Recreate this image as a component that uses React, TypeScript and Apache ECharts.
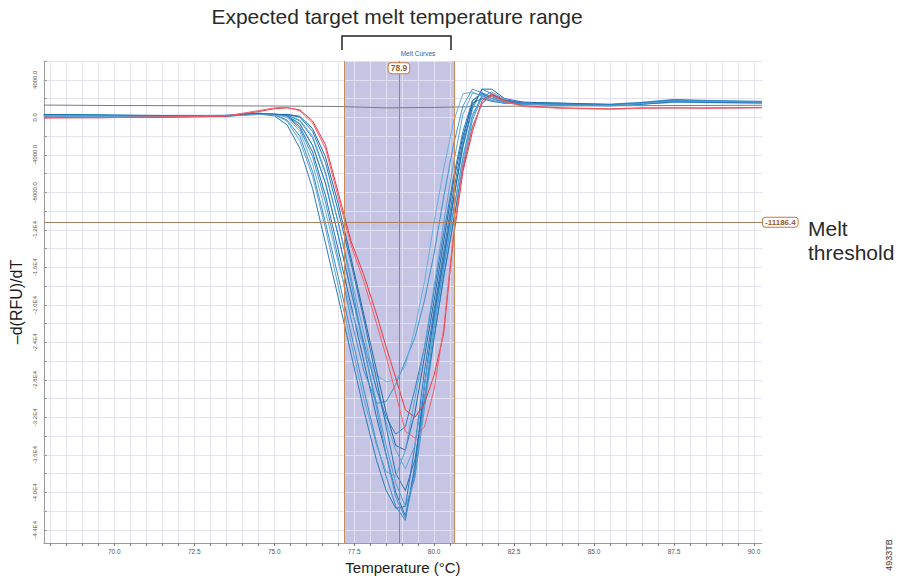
import React, { useEffect, useRef } from "react";
import * as echarts from "echarts";

// Temperature sample points (°C) shared by the melt curves
const TEMPS = [67.8, 69.5, 71.5, 73.5, 74.5, 75.0, 75.4, 75.8, 76.2, 76.6, 77.0, 77.4, 77.8, 78.2, 78.5, 78.8, 79.1, 79.4, 79.7, 80.0, 80.3, 80.6, 80.9, 81.2, 81.5, 81.8, 82.2, 82.8, 84.0, 85.5, 86.5, 87.5, 88.5, 90.25];

const BLUE_1 = [250, 200, 100, 150, 350, 150, -800, -3300, -7600, -13400, -19200, -25200, -31200, -36600, -39800, -41700, -41500, -35000, -27000, -20500, -14300, -8000, -2500, 1800, 2600, 2200, 1700, 1500, 1400, 1300, 1500, 1800, 1700, 1600];
const BLUE_2 = [200, 150, 50, 100, 450, 300, -300, -2000, -5800, -11200, -17000, -23000, -29000, -34700, -38300, -41500, -43000, -37000, -28500, -21500, -15300, -9000, -3200, 900, 3000, 2500, 1800, 1600, 1500, 1400, 1600, 1900, 1800, 1700];
const BLUE_3 = [150, 100, 50, 150, 400, 350, 150, -1000, -3700, -8300, -14100, -20000, -26000, -32000, -36000, -40000, -42500, -37500, -28500, -21000, -15000, -8800, -3000, 1200, 3000, 3000, 2000, 1600, 1500, 1350, 1500, 1700, 1700, 1650];
const BLUE_4 = [300, 250, 150, 200, 400, 350, 200, -700, -3000, -7000, -12600, -18500, -24500, -30500, -35000, -39000, -41500, -38500, -31000, -23500, -17000, -11200, -5000, -300, 2200, 2700, 1900, 1500, 1400, 1250, 1450, 1750, 1650, 1550];
const BLUE_5 = [100, 50, 0, 100, 350, 300, 250, -300, -2000, -5800, -11200, -17000, -23000, -29000, -32500, -35500, -37500, -35000, -28500, -22000, -16000, -10200, -4500, 0, 2400, 2300, 1700, 1400, 1300, 1200, 1400, 1600, 1600, 1500];
const BLUE_6 = [200, 150, 100, 150, 380, 300, 150, -700, -3000, -7000, -12600, -18500, -24000, -29000, -32000, -33800, -33000, -29000, -24500, -18500, -12300, -6500, -1500, 1800, 2500, 2000, 1600, 1450, 1350, 1300, 1500, 1850, 1750, 1650];
const BLUE_7 = [250, 200, 150, 200, 420, 300, 100, -1200, -4200, -9000, -15000, -21500, -27000, -30500, -30300, -28500, -26000, -23500, -19500, -14500, -8500, -3000, 1200, 3000, 2600, 2000, 1600, 1500, 1400, 1300, 1500, 1700, 1700, 1600];
const BLUE_8 = [150, 100, 50, 100, 300, 300, 0, -1500, -5000, -10000, -15500, -20500, -24500, -27500, -28200, -28000, -26500, -22500, -17500, -11200, -5500, -500, 2500, 2700, 2200, 1800, 1500, 1400, 1300, 1200, 1400, 1600, 1550, 1500];
const BLUE_9 = [300, 250, 200, 200, 400, 300, 300, 0, -1500, -4800, -10000, -15500, -21500, -28000, -33000, -38000, -39800, -36500, -30000, -23500, -17000, -11200, -5500, -1000, 1500, 2400, 1800, 1500, 1400, 1300, 1500, 1800, 1700, 1650];
const BLUE_10 = [200, 150, 100, 150, 350, 300, 250, -400, -2200, -6000, -11200, -17500, -24500, -31000, -36000, -40500, -42800, -38000, -30000, -22500, -16000, -10000, -4200, 300, 2300, 2000, 1600, 1450, 1350, 1250, 1450, 1700, 1650, 1600];
const BLUE_11 = [250, 200, 150, 150, 380, 300, 300, 100, -1200, -4200, -9200, -15000, -21000, -27000, -31500, -35000, -35500, -31500, -25500, -19500, -13200, -7000, -2000, 1500, 2000, 1700, 1500, 1400, 1300, 1250, 1400, 1650, 1600, 1550];
const BLUE_12 = [200, 150, 100, 150, 300, 250, -400, -2500, -6300, -11800, -18000, -24000, -30000, -35000, -37800, -38300, -35500, -30000, -24500, -18000, -11200, -5000, 300, 2600, 2300, 1800, 1500, 1400, 1300, 1250, 1450, 1750, 1700, 1600];
const RED_1 = [0, -50, 0, 100, 600, 900, 1000, 800, -400, -2900, -8000, -13200, -16800, -21000, -24500, -27800, -31200, -32000, -30500, -27500, -23000, -13000, -5800, -1500, 1800, 2500, 1800, 1200, 1000, 900, 1000, 1000, 1000, 1050];
const RED_2 = [-100, -50, 50, 150, 700, 1000, 1050, 700, -600, -3300, -8500, -13600, -17500, -22000, -25500, -29500, -33500, -34200, -33000, -29000, -22500, -12500, -5200, -1000, 1500, 2300, 1700, 1150, 950, 850, 950, 1000, 950, 1000];

// Near-flat gray trace
const GRAY_TEMPS = [67.8, 70, 72.5, 75, 77, 78.5, 80, 81.5, 83, 85, 87.5, 90.25];
const GRAY_VALUES = [1300, 1250, 1230, 1200, 1150, 1000, 1050, 1150, 1200, 1220, 1250, 1280];

const BLUE_SERIES = [BLUE_1, BLUE_2, BLUE_3, BLUE_4, BLUE_5, BLUE_6, BLUE_7, BLUE_8, BLUE_9, BLUE_10, BLUE_11, BLUE_12];
const BLUE_COLORS = ["#2a7ab8", "#3a8cc8", "#1f6fae", "#4b9cd3", "#5aa8dc", "#2f80c0", "#3d92cf", "#6ab0e0", "#2676b5", "#4596d0", "#1c6aa8", "#5ba3d6"];
const RED_SERIES = [RED_1, RED_2];
const RED_COLORS = ["#e8383d", "#f0606a"];

const X_LABELS = [70, 72.5, 75, 77.5, 80, 82.5, 85, 87.5, 90];
const Y_LABELS = [-44000, -40000, -36000, -32000, -28000, -24000, -20000, -16000, -12000, -8000, -4000, 0, 4000];

const RANGE_LOW = 77.2;
const RANGE_HIGH = 80.62;
const PEAK_TEMP = 78.9;
const THRESHOLD = -11186.4;

const X_MIN = 67.8;
const X_MAX = 90.25;
const Y_MIN = -45400;
const Y_MAX = 6000;

export default function App() {
  const ref = useRef<HTMLDivElement>(null);

  useEffect(() => {
    if (!ref.current) return;
    const chart = echarts.init(ref.current, null, { renderer: "svg" });

    const xGrid: number[] = [];
    for (let v = 68; v <= 90.001; v += 0.5) xGrid.push(Math.round(v * 10) / 10);
    const yGrid: number[] = [];
    for (let v = -44000; v <= 6000; v += 2000) yGrid.push(v);

    const font = "'Liberation Sans', Arial, Helvetica, sans-serif";

    const curveSeries: any[] = [];
    BLUE_SERIES.forEach((vals, k) => {
      curveSeries.push({
        type: "line",
        name: "blue" + (k + 1),
        data: TEMPS.map((t, i) => [t, vals[i]]),
        showSymbol: false,
        symbol: "none",
        silent: true,
        z: 2,
        lineStyle: { width: 1, color: BLUE_COLORS[k] },
      });
    });
    RED_SERIES.forEach((vals, k) => {
      curveSeries.push({
        type: "line",
        name: "red" + (k + 1),
        data: TEMPS.map((t, i) => [t, vals[i]]),
        showSymbol: false,
        symbol: "none",
        silent: true,
        z: 3,
        lineStyle: { width: 1, color: RED_COLORS[k] },
      });
    });

    const option: any = {
      animation: false,
      backgroundColor: "#ffffff",
      grid: { left: 39, top: 61, width: 723, height: 482, containLabel: false },
      xAxis: {
        type: "value",
        min: X_MIN,
        max: X_MAX,
        name: "Temperature (°C)",
        nameLocation: "middle",
        nameGap: 13,
        nameTextStyle: { fontFamily: font, fontSize: 15, color: "#1a1a1a" },
        axisLine: { show: true, onZero: false, lineStyle: { color: "#9a9a9a", width: 1 } },
        axisTick: { show: true, customValues: xGrid, length: 3, lineStyle: { color: "#777" } },
        axisLabel: {
          customValues: X_LABELS,
          formatter: (v: number) => v.toFixed(1),
          fontFamily: font,
          fontSize: 6.5,
          color: "#555",
          margin: 5,
        },
        splitLine: { show: true, lineStyle: { color: "#e3e1f1", width: 1 } },
      },
      yAxis: {
        type: "value",
        min: Y_MIN,
        max: Y_MAX,
        name: "–d(RFU)/dT",
        nameLocation: "middle",
        nameGap: 14,
        nameRotate: 90,
        nameTextStyle: { fontFamily: font, fontSize: 16, color: "#1a1a1a" },
        axisLine: { show: true, onZero: false, lineStyle: { color: "#9a9a9a", width: 1 } },
        axisTick: { show: true, inside: true, customValues: yGrid, length: 3, lineStyle: { color: "#999" } },
        axisLabel: {
          customValues: Y_LABELS,
          rotate: 90,
          fontFamily: font,
          fontSize: 6,
          color: "#555",
          margin: 6,
          formatter: (v: number) => {
            if (v === 0) return "0.0";
            if (Math.abs(v) < 10000) return v.toFixed(1);
            return (v / 10000).toFixed(1) + "E4";
          },
        },
        splitLine: { show: true, lineStyle: { color: "#e3e1f1", width: 1 } },
      },
      series: [
        {
          type: "line",
          name: "gray",
          data: GRAY_TEMPS.map((t, i) => [t, GRAY_VALUES[i]]),
          showSymbol: false,
          symbol: "none",
          silent: true,
          z: 2,
          lineStyle: { width: 1, color: "#7a7a7a" },
          markArea: {
            silent: true,
            z: -1,
            itemStyle: { color: "#c6c4e4" },
            data: [[{ xAxis: RANGE_LOW }, { xAxis: RANGE_HIGH }]],
          },
          markLine: {
            silent: true,
            symbol: ["none", "none"],
            animation: false,
            label: { show: false },
            data: [
              { xAxis: RANGE_LOW, lineStyle: { color: "#c98a5a", width: 1, type: "solid" } },
              { xAxis: RANGE_HIGH, lineStyle: { color: "#c98a5a", width: 1, type: "solid" } },
              { xAxis: PEAK_TEMP, lineStyle: { color: "#c8783a", width: 1, type: "solid" } },
              {
                yAxis: THRESHOLD,
                lineStyle: { color: "#a88060", width: 1, type: "solid" },
                label: {
                  show: true,
                  position: "end",
                  distance: 1,
                  formatter: "-11186.4",
                  fontFamily: font,
                  fontSize: 8,
                  fontWeight: "bold",
                  color: "#9a5a2a",
                  backgroundColor: "#ffffff",
                  borderColor: "#c87a3a",
                  borderWidth: 1,
                  borderRadius: 3,
                  padding: [1, 2, 0, 2],
                },
              },
            ],
          },
          markPoint: {
            silent: true,
            animation: false,
            data: [
              {
                coord: [PEAK_TEMP, 5230],
                symbol: "rect",
                symbolSize: 1,
                itemStyle: { color: "rgba(0,0,0,0)" },
                label: {
                  show: true,
                  position: "inside",
                  formatter: "78.9",
                  fontFamily: font,
                  fontSize: 8.5,
                  fontWeight: "bold",
                  color: "#9a5a2a",
                  backgroundColor: "#ffffff",
                  borderColor: "#c87a3a",
                  borderWidth: 1,
                  borderRadius: 3,
                  padding: [1, 2, 0, 2],
                },
              },
            ],
          },
        },
        ...curveSeries,
      ],
      graphic: [
        {
          type: "text",
          style: {
            text: "Expected target melt temperature range",
            x: 397,
            y: 16,
            align: "center",
            verticalAlign: "middle",
            fontFamily: font,
            fontSize: 21,
            fill: "#2a2a2a",
          },
          silent: true,
        },
        {
          type: "polyline",
          shape: { points: [[342, 50], [342, 36], [451, 36], [451, 50]] },
          style: { stroke: "#222", lineWidth: 1.5, fill: "none" },
          silent: true,
        },
        {
          type: "text",
          style: {
            text: "Melt Curves",
            x: 418,
            y: 53,
            align: "center",
            verticalAlign: "middle",
            fontFamily: font,
            fontSize: 6.5,
            fill: "#2f5fa8",
          },
          silent: true,
        },
        {
          type: "text",
          style: {
            text: "Melt",
            x: 808,
            y: 228,
            align: "left",
            verticalAlign: "middle",
            fontFamily: font,
            fontSize: 21,
            fill: "#2a2a2a",
          },
          silent: true,
        },
        {
          type: "text",
          style: {
            text: "threshold",
            x: 808,
            y: 252,
            align: "left",
            verticalAlign: "middle",
            fontFamily: font,
            fontSize: 21,
            fill: "#2a2a2a",
          },
          silent: true,
        },
        {
          type: "text",
          x: 889,
          y: 555,
          rotation: Math.PI / 2,
          style: {
            text: "4933TB",
            x: 0,
            y: 0,
            align: "center",
            verticalAlign: "middle",
            fontFamily: font,
            fontSize: 9,
            fill: "#333",
          },
          silent: true,
        },
      ],
    };

    chart.setOption(option);
    return () => chart.dispose();
  }, []);

  return (
    <div
      ref={ref}
      style={{ position: "absolute", left: 0, top: 0, width: 898, height: 581, background: "#fff" }}
    />
  );
}
